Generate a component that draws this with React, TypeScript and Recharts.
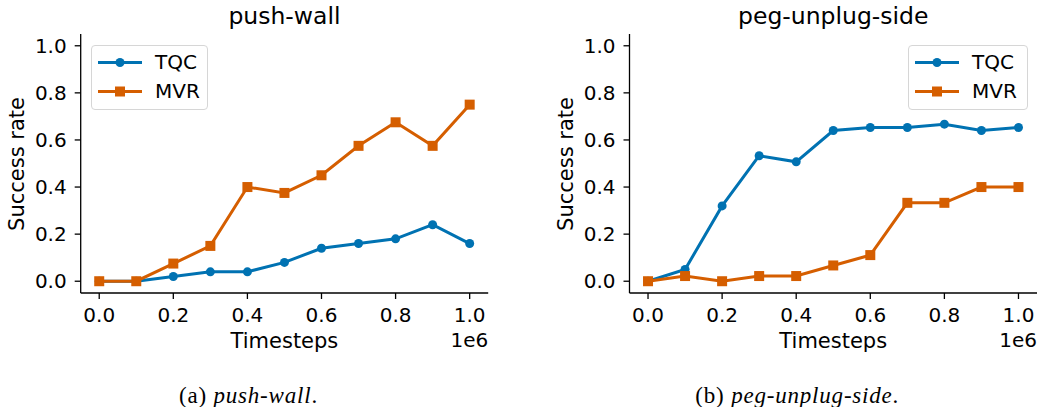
import { LineChart, Line, XAxis, YAxis } from "recharts";

const steps = [0, 0.1, 0.2, 0.3, 0.4, 0.5, 0.6, 0.7, 0.8, 0.9, 1.0];
const tickValues = [0, 0.2, 0.4, 0.6, 0.8, 1.0];

const pushWallTqc = [0, 0, 0.02, 0.04, 0.04, 0.08, 0.14, 0.16, 0.18, 0.24, 0.16];
const pushWallMvr = [0, 0, 0.075, 0.15, 0.4, 0.375, 0.45, 0.575, 0.675, 0.575, 0.75];

const pegTqc = [0, 0.05, 0.32, 0.533, 0.507, 0.64, 0.653, 0.653, 0.667, 0.64, 0.653];
const pegMvr = [0, 0.022, 0, 0.022, 0.022, 0.067, 0.111, 0.333, 0.333, 0.4, 0.4];

const BLUE = "#0072B2";
const ORANGE = "#D55E00";
const FONT = "'DejaVu Sans', sans-serif";

const tickStyle = { fontSize: 20, fill: "#000", fontFamily: FONT };

function SquareDot(props: any) {
  const { cx, cy } = props;
  if (cx == null || cy == null) return null;
  return <rect x={cx - 5} y={cy - 5} width={10} height={10} fill={ORANGE} />;
}

function Legend2({ left, top, width }: { left: number; top: number; width: number }) {
  return (
    <div
      style={{
        position: "absolute",
        left,
        top,
        width,
        height: 65,
        border: "1px solid #d6d6d6",
        borderRadius: 4,
        background: "rgba(255,255,255,0.8)",
        boxSizing: "border-box",
        fontFamily: FONT,
        fontSize: 20,
      }}
    >
      <svg width={60} height={65} style={{ position: "absolute", left: 0, top: 0 }}>
        <line x1={6} x2={50} y1={16.5} y2={16.5} stroke={BLUE} strokeWidth={3} />
        <circle cx={28} cy={16.5} r={4.5} fill={BLUE} />
        <line x1={6} x2={50} y1={45.5} y2={45.5} stroke={ORANGE} strokeWidth={3} />
        <rect x={23} y={40.5} width={10} height={10} fill={ORANGE} />
      </svg>
      <div style={{ position: "absolute", left: 63, top: 3, lineHeight: "26px" }}>TQC</div>
      <div style={{ position: "absolute", left: 63, top: 32, lineHeight: "26px" }}>MVR</div>
    </div>
  );
}

function Panel({
  left,
  axisX,
  title,
  caption,
  tqc,
  mvr,
  legendLeft,
  legendWidth,
}: {
  left: number;
  axisX: number;
  title: string;
  caption: [string, string];
  tqc: number[];
  mvr: number[];
  legendLeft: number;
  legendWidth: number;
}) {
  const data = steps.map((x, i) => ({ x, tqc: tqc[i], mvr: mvr[i] }));
  const plotRight = axisX + 407.5;
  const center = (axisX + plotRight) / 2;
  return (
    <div style={{ position: "absolute", left, top: 0, width: 520, height: 407 }}>
      <LineChart
        width={520}
        height={360}
        data={data}
        margin={{ top: 34, right: 520 - plotRight, bottom: 0, left: 0 }}
      >
        <XAxis
          dataKey="x"
          type="number"
          domain={[-0.05, 1.05]}
          ticks={tickValues}
          tickFormatter={(v: number) => v.toFixed(1)}
          allowDataOverflow
          height={67}
          tick={tickStyle}
          tickSize={6}
          tickMargin={9}
          stroke="#000"
          strokeWidth={1.3}
        />
        <YAxis
          type="number"
          domain={[-0.05, 1.05]}
          ticks={tickValues}
          tickFormatter={(v: number) => v.toFixed(1)}
          allowDataOverflow
          width={axisX}
          tick={tickStyle}
          tickSize={6}
          tickMargin={8}
          stroke="#000"
          strokeWidth={1.3}
        />
        <Line
          dataKey="tqc"
          stroke={BLUE}
          strokeWidth={3}
          dot={{ r: 4.5, fill: BLUE, stroke: BLUE, strokeWidth: 0 }}
          isAnimationActive={false}
        />
        <Line
          dataKey="mvr"
          stroke={ORANGE}
          strokeWidth={3}
          dot={<SquareDot />}
          isAnimationActive={false}
        />
      </LineChart>
      <div
        style={{
          position: "absolute",
          left: center - 150,
          width: 300,
          top: 2,
          textAlign: "center",
          fontFamily: FONT,
          fontSize: 23.5,
          lineHeight: "28px",
        }}
      >
        {title}
      </div>
      <div
        style={{
          position: "absolute",
          left: center - 100,
          width: 200,
          top: 327,
          textAlign: "center",
          fontFamily: FONT,
          fontSize: 21,
          lineHeight: "28px",
        }}
      >
        Timesteps
      </div>
      <div
        style={{
          position: "absolute",
          right: 520 - plotRight,
          top: 327,
          fontFamily: FONT,
          fontSize: 20,
          lineHeight: "26px",
        }}
      >
        1e6
      </div>
      <div
        style={{
          position: "absolute",
          left: axisX - 64 - 100,
          top: 163.5 - 14,
          width: 200,
          height: 28,
          textAlign: "center",
          fontFamily: FONT,
          fontSize: 21,
          lineHeight: "28px",
          transform: "rotate(-90deg)",
        }}
      >
        Success rate
      </div>
      <div
        style={{
          position: "absolute",
          left: center - 150 - 36,
          width: 300,
          top: 383,
          textAlign: "center",
          fontFamily: "'Liberation Serif', 'Times New Roman', serif",
          fontSize: 23,
          letterSpacing: 0.8,
          lineHeight: "26px",
        }}
      >
        {caption[0]} <i>{caption[1]}</i>.
      </div>
      <Legend2 left={legendLeft} top={45} width={legendWidth} />
    </div>
  );
}

export default function App() {
  return (
    <div
      style={{
        position: "absolute",
        left: 0,
        top: 0,
        width: 1038,
        height: 407,
        background: "#fff",
        overflow: "hidden",
      }}
    >
      <Panel
        left={0}
        axisX={80.7}
        title="push-wall"
        caption={["(a)", "push-wall"]}
        tqc={pushWallTqc}
        mvr={pushWallMvr}
        legendLeft={91}
        legendWidth={117}
      />
      <Panel
        left={520}
        axisX={109.5}
        title="peg-unplug-side"
        caption={["(b)", "peg-unplug-side"]}
        tqc={pegTqc}
        mvr={pegMvr}
        legendLeft={388}
        legendWidth={120}
      />
    </div>
  );
}
